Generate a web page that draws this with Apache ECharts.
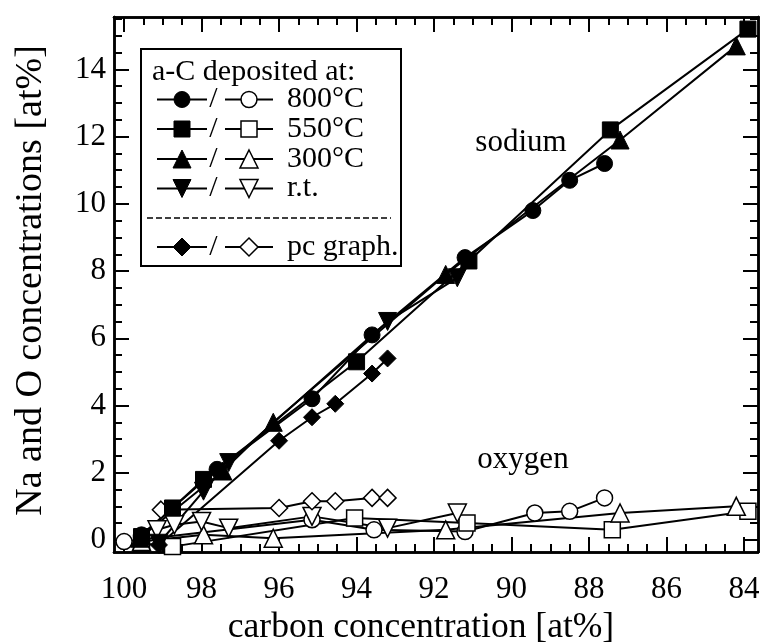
<!DOCTYPE html>
<html>
<head>
<meta charset="utf-8">
<script src="https://cdn.jsdelivr.net/npm/echarts@6/dist/echarts.min.js"></script>
<style>html,body{margin:0;padding:0;background:#fff}#c{width:763px;height:644px}</style>
</head>
<body>
<div id="c"></div>
<script>
// ---- data (carbon concentration [at%] vs Na / O concentration [at%]) ----
const na800X = [99.55, 97.6, 95.15, 93.6, 91.2, 89.45, 88.5, 87.6];
const na800Y = [0.15, 2.1, 4.2, 6.1, 8.4, 9.8, 10.7, 11.2];
const na550X = [99.55, 98.75, 97.95, 94.0, 91.1, 87.45, 83.9];
const na550Y = [0.1, 0.95, 1.8, 5.3, 8.3, 12.2, 15.2];
const na300X = [99.6, 97.45, 96.15, 91.7, 87.2, 84.2];
const na300Y = [0.05, 2.05, 3.5, 7.9, 11.9, 14.7];
const naRtX = [99.1, 97.95, 97.3, 93.2, 91.4];
const naRtY = [-0.1, 1.45, 2.3, 6.5, 7.8];
const naPcX = [99.1, 96.0, 95.15, 94.55, 93.6, 93.2];
const naPcY = [-0.15, 2.95, 3.65, 4.05, 4.95, 5.4];

const o800X = [100.0, 95.15, 93.55, 91.2, 89.4, 88.5, 87.6];
const o800Y = [-0.05, 0.6, 0.3, 0.25, 0.8, 0.85, 1.25];
const o550X = [99.55, 98.75, 94.05, 91.15, 87.4, 83.9];
const o550Y = [-0.1, -0.2, 0.65, 0.5, 0.3, 0.85];
const o300X = [99.55, 97.95, 96.15, 91.7, 87.2, 84.2];
const o300Y = [-0.05, 0.15, 0.05, 0.3, 0.8, 1.0];
const oRtX = [99.15, 98.7, 98.0, 97.3, 95.15, 93.2, 91.4];
const oRtY = [0.3, 0.45, 0.55, 0.35, 0.7, 0.35, 0.8];
const oPcX = [99.05, 96.0, 95.15, 94.55, 93.6, 93.2];
const oPcY = [0.9, 0.95, 1.15, 1.15, 1.25, 1.25];

// ---- axes / ticks ----
const xMajorTicks = [84, 86, 88, 90, 92, 94, 96, 98, 100];
const yMajorTicks = [0, 2, 4, 6, 8, 10, 12, 14];
const minorStep = 0.5;
const X_MIN = 83.64, X_MAX = 100.26;
const Y_MIN = -0.36, Y_MAX = 15.56;

const legendTitle = 'a-C deposited at:';
const legendLabels = ['800°C', '550°C', '300°C', 'r.t.', 'pc graph.'];
const xName = 'carbon concentration [at%]';
const yName = 'Na and O concentrations [at%]';

function minorList(lo, hi, majors) {
  const out = [];
  for (let v = Math.ceil(lo / minorStep) * minorStep; v <= hi + 1e-9; v += minorStep) {
    const r = Math.round(v * 100) / 100;
    if (majors.indexOf(r) < 0) out.push(r);
  }
  return out;
}
const xMinorTicks = minorList(X_MIN, X_MAX, xMajorTicks);
const yMinorTicks = minorList(Y_MIN, Y_MAX, yMajorTicks);

const FONT = '"Liberation Serif", "Times New Roman", serif';
const AXW = 2.5;

function xAx(pos, ticks, len, withLabels) {
  const a = {
    type: 'value', position: pos, inverse: true, min: X_MIN, max: X_MAX,
    axisLine: { show: true, onZero: false, lineStyle: { color: '#000', width: AXW } },
    axisTick: { show: true, inside: true, length: len, customValues: ticks, lineStyle: { color: '#000', width: 2 } },
    axisLabel: { show: false },
    splitLine: { show: false }
  };
  if (withLabels) {
    a.axisLabel = { show: true, customValues: ticks, color: '#000', fontFamily: FONT, fontSize: 31, margin: 22 };
    a.name = xName;
    a.nameLocation = 'middle';
    a.nameGap = 58;
    a.nameTextStyle = { color: '#000', fontFamily: FONT, fontSize: 35.5, padding: [0, 30, 0, 0] };
  }
  return a;
}
function yAx(pos, ticks, len, withLabels) {
  const a = {
    type: 'value', position: pos, min: Y_MIN, max: Y_MAX,
    axisLine: { show: true, onZero: false, lineStyle: { color: '#000', width: AXW } },
    axisTick: { show: true, inside: true, length: len, customValues: ticks, lineStyle: { color: '#000', width: 2 } },
    axisLabel: { show: false },
    splitLine: { show: false }
  };
  if (withLabels) {
    a.axisLabel = { show: true, customValues: ticks, color: '#000', fontFamily: FONT, fontSize: 31, margin: 8 };
    a.name = yName;
    a.nameLocation = 'middle';
    a.nameGap = 64;
    a.nameTextStyle = { color: '#000', fontFamily: FONT, fontSize: 38, padding: [0, 0, 0, 8] };
  }
  return a;
}

function pts(xs, ys) { return xs.map((x, i) => [x, ys[i]]); }

function ser(xs, ys, symbol, size, filled, rotate) {
  return {
    type: 'line', data: pts(xs, ys), symbol: symbol, symbolSize: size, symbolRotate: rotate || 0,
    showAllSymbol: true, animation: false,
    lineStyle: { color: '#000', width: 2 },
    itemStyle: filled ? { color: '#000', borderColor: '#000', borderWidth: 1 } : { color: '#fff', borderColor: '#000', borderWidth: 1.5 },
    emphasis: { disabled: true }
  };
}

const series = [
  ser(o800X, o800Y, 'circle', 16, false),
  ser(o550X, o550Y, 'rect', 16, false),
  ser(o300X, o300Y, 'triangle', 18, false),
  ser(oRtX, oRtY, 'triangle', 18, false, 180),
  ser(oPcX, oPcY, 'diamond', 17, false),
  ser(naPcX, naPcY, 'diamond', 17, true),
  ser(naRtX, naRtY, 'triangle', 18, true, 180),
  ser(na300X, na300Y, 'triangle', 18, true),
  ser(na800X, na800Y, 'circle', 16, true),
  ser(na550X, na550Y, 'rect', 16, true)
];

// ---- legend drawn as graphic ----
const LX = 141, LY = 49, LW = 260, LH = 217;
const rowY = [99.5, 129, 159, 188.5, 247];
const LFONT = '30px ' + FONT;
const g = [];
g.push({ type: 'rect', shape: { x: LX, y: LY, width: LW, height: LH }, style: { fill: '#fff', stroke: '#000', lineWidth: 2 }, z: 100 });
g.push({ type: 'text', x: 152, y: 72, style: { text: legendTitle, font: LFONT, fill: '#000', verticalAlign: 'middle' }, z: 101 });
g.push({ type: 'line', shape: { x1: 147, y1: 218, x2: 391, y2: 218 }, style: { stroke: '#000', lineWidth: 1.5, lineDash: [6, 3] }, z: 101 });

function marker(kind, cx, cy, filled) {
  const style = filled ? { fill: '#000', stroke: '#000', lineWidth: 1 } : { fill: '#fff', stroke: '#000', lineWidth: 1.5 };
  const r = 8, t = 9;
  if (kind === 0) return { type: 'circle', shape: { cx: cx, cy: cy, r: r }, style: style, z: 103 };
  if (kind === 1) return { type: 'rect', shape: { x: cx - r, y: cy - r, width: 2 * r, height: 2 * r }, style: style, z: 103 };
  if (kind === 2) return { type: 'polygon', shape: { points: [[cx, cy - t], [cx + t, cy + t], [cx - t, cy + t]] }, style: style, z: 103 };
  if (kind === 3) return { type: 'polygon', shape: { points: [[cx, cy + t], [cx + t, cy - t], [cx - t, cy - t]] }, style: style, z: 103 };
  return { type: 'polygon', shape: { points: [[cx, cy - t], [cx + t, cy], [cx, cy + t], [cx - t, cy]] }, style: style, z: 103 };
}
legendLabels.forEach((lab, i) => {
  const y = rowY[i];
  g.push({ type: 'line', shape: { x1: 157, y1: y, x2: 207, y2: y }, style: { stroke: '#000', lineWidth: 2 }, z: 102 });
  g.push(marker(i, 182, y, true));
  g.push({ type: 'text', x: 213.5, y: y, style: { text: '/', font: LFONT, fill: '#000', align: 'center', verticalAlign: 'middle' }, z: 102 });
  g.push({ type: 'line', shape: { x1: 225, y1: y, x2: 273, y2: y }, style: { stroke: '#000', lineWidth: 2 }, z: 102 });
  g.push(marker(i, 249, y, false));
  g.push({ type: 'text', x: 287, y: y, style: { text: lab, font: LFONT, fill: '#000', verticalAlign: 'middle' }, z: 102 });
});
g.push({ type: 'text', x: 521, y: 143, style: { text: 'sodium', font: '31px ' + FONT, fill: '#000', align: 'center', verticalAlign: 'middle' }, z: 50 });
g.push({ type: 'text', x: 523, y: 460, style: { text: 'oxygen', font: '31px ' + FONT, fill: '#000', align: 'center', verticalAlign: 'middle' }, z: 50 });

const chart = echarts.init(document.getElementById('c'), null, { renderer: 'canvas' });
chart.setOption({
  backgroundColor: '#fff',
  animation: false,
  grid: { left: 114, right: 5, top: 17, bottom: 92, containLabel: false, outerBoundsMode: 'none' },
  xAxis: [
    xAx('bottom', xMajorTicks, 15, true),
    xAx('bottom', xMinorTicks, 8, false),
    xAx('top', xMajorTicks, 15, false),
    xAx('top', xMinorTicks, 8, false)
  ],
  yAxis: [
    yAx('left', yMajorTicks, 15, true),
    yAx('left', yMinorTicks, 8, false),
    yAx('right', yMajorTicks, 15, false),
    yAx('right', yMinorTicks, 8, false)
  ],
  series: series,
  graphic: g
});
</script>
</body>
</html>
